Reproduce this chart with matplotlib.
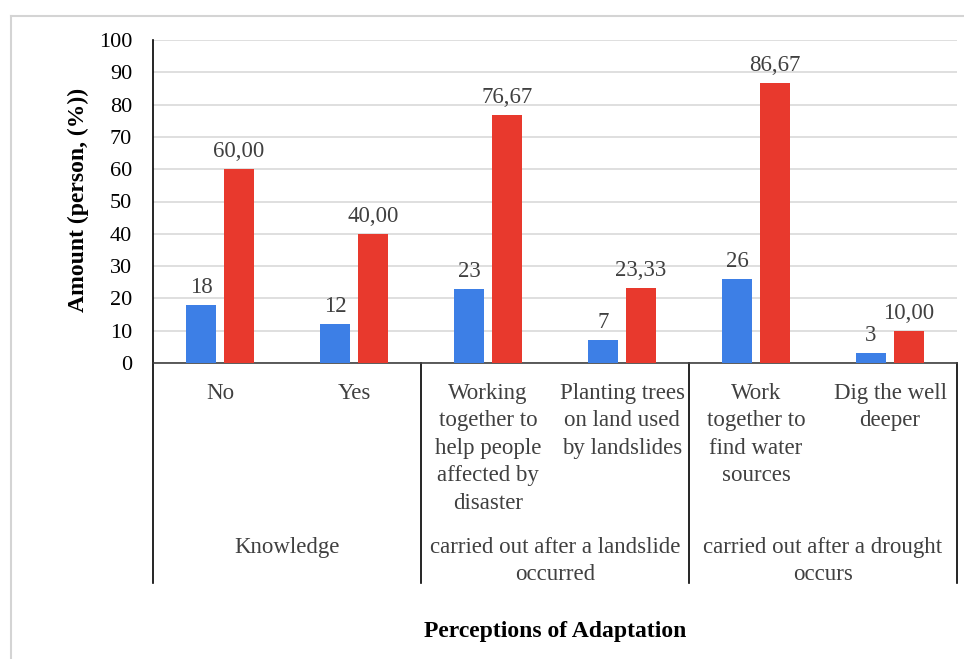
import matplotlib
matplotlib.use("Agg")
import matplotlib.pyplot as plt
import matplotlib.lines as mlines
import numpy as np

plt.rcParams['font.family'] = ['Liberation Serif', 'DejaVu Serif']

categories = ["No", "Yes",
              "Working\ntogether to\nhelp people\naffected by\ndisaster",
              "Planting trees\non land used\nby landslides",
              "Work\ntogether to\nfind water\nsources",
              "Dig the well\ndeeper"]
groups = ["Knowledge",
          "carried out after a landslide\noccurred",
          "carried out after a drought\noccurs"]
group_sizes = [2, 2, 2]
persons = [18, 12, 23, 7, 26, 3]
percents = [60.00, 40.00, 76.67, 23.33, 86.67, 10.00]

blue = "#3D7FE6"
red = "#E8392D"
txt = "#404040"
fs = 16.5

fig = plt.figure(figsize=(9.64, 6.59), dpi=100)
ax = fig.add_axes([153/964, 1 - 363/659, (957 - 153)/964, (363 - 40)/659])

x = np.arange(len(categories))
w = 0.225
off = 0.142
b1 = ax.bar(x - off, persons, w, color=blue, zorder=3)
b2 = ax.bar(x + off, percents, w, color=red, zorder=3)

for rect, v in zip(b1, persons):
    ax.annotate(str(v), (rect.get_x() + rect.get_width()/2, rect.get_height()),
                xytext=(0, 5), textcoords="offset points", ha="center", va="bottom",
                fontsize=fs, color=txt)
for rect, v in zip(b2, percents):
    ax.annotate(f"{v:.2f}".replace(".", ","), (rect.get_x() + rect.get_width()/2, rect.get_height()),
                xytext=(0, 5), textcoords="offset points", ha="center", va="bottom",
                fontsize=fs, color=txt)

ax.set_xlim(-0.5, len(categories) - 0.5)
ax.set_ylim(0, 100)
ax.set_yticks(range(0, 101, 10))
ax.tick_params(axis="y", length=0, pad=15, labelsize=16, labelcolor="black")
ax.set_xticks([])
ax.grid(axis="y", color="#D9D9D9", linewidth=1.2, zorder=0)
for s in ["top", "right"]:
    ax.spines[s].set_visible(False)
ax.spines["left"].set_color("black")
ax.spines["bottom"].set_color("#404040")
ax.spines["left"].set_linewidth(1.2)
ax.spines["bottom"].set_linewidth(1.2)

# category labels and group separators under the axis
tr = ax.get_xaxis_transform()
for xi, lab in zip(x, categories):
    ax.text(xi, -0.062, lab, transform=tr, ha="center", va="top",
            fontsize=fs, color=txt, linespacing=1.4)

edges = np.concatenate([[0], np.cumsum(group_sizes)]) - 0.5
for e in edges:
    ax.plot([e, e], [0, -0.681], transform=tr, color="black", linewidth=1.2,
            clip_on=False)
for i, g in enumerate(groups):
    mid = (edges[i] + edges[i + 1]) / 2
    ax.text(mid, -0.538, g, transform=tr, ha="center", va="top",
            fontsize=fs, color=txt, linespacing=1.4)

fig.text(555/964, 1 - 632/659, "Perceptions of Adaptation", ha="center", va="center",
         fontsize=17, fontweight="bold")
fig.text(78/964, 1 - 200/659, "Amount (person, (%))", ha="center", va="center",
         rotation=90, fontsize=17, fontweight="bold")

# thin outer frame
fig.add_artist(mlines.Line2D([11/964, 11/964], [0, 1 - 16/659], color="#D4D4D4", linewidth=1.5))
fig.add_artist(mlines.Line2D([11/964, 1], [1 - 16/659, 1 - 16/659], color="#D4D4D4", linewidth=1.5))

fig.savefig("out.png", dpi=100)
